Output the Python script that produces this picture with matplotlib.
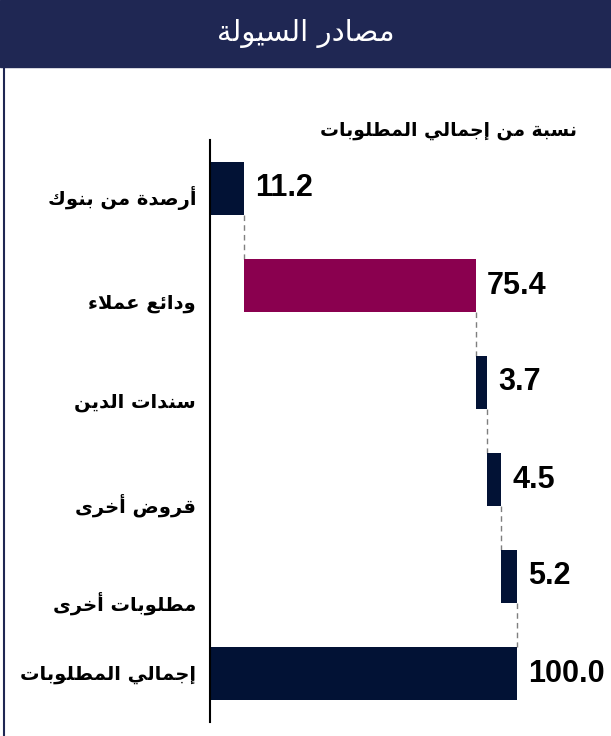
import matplotlib
matplotlib.use("Agg")
import matplotlib.pyplot as plt
import numpy as np

# data
categories = ["أرصدة من بنوك", "ودائع عملاء", "سندات الدين", "قروض أخرى", "مطلوبات أخرى", "إجمالي المطلوبات"]
values = [11.2, 75.4, 3.7, 4.5, 5.2, 100.0]
is_total = [False, False, False, False, False, True]
title = "مصادر السيولة"
subtitle = "نسبة من إجمالي المطلوبات"

NAVY = "#021235"
MAROON = "#8a004f"
HEADER = "#1f2753"
bar_colors = [NAVY, MAROON, NAVY, NAVY, NAVY, NAVY]

# matplotlib has no arabic shaping, so map letters to presentation forms by hand
# char: (isolated, final, initial, medial)
FORMS = {
    "ء": ("\uFE80", None, None, None),
    "أ": ("\uFE83", "\uFE84", None, None),
    "إ": ("\uFE87", "\uFE88", None, None),
    "ئ": ("\uFE89", "\uFE8A", "\uFE8B", "\uFE8C"),
    "ا": ("\uFE8D", "\uFE8E", None, None),
    "ب": ("\uFE8F", "\uFE90", "\uFE91", "\uFE92"),
    "ة": ("\uFE93", "\uFE94", None, None),
    "ت": ("\uFE95", "\uFE96", "\uFE97", "\uFE98"),
    "ج": ("\uFE9D", "\uFE9E", "\uFE9F", "\uFEA0"),
    "خ": ("\uFEA5", "\uFEA6", "\uFEA7", "\uFEA8"),
    "د": ("\uFEA9", "\uFEAA", None, None),
    "ر": ("\uFEAD", "\uFEAE", None, None),
    "س": ("\uFEB1", "\uFEB2", "\uFEB3", "\uFEB4"),
    "ص": ("\uFEB9", "\uFEBA", "\uFEBB", "\uFEBC"),
    "ض": ("\uFEBD", "\uFEBE", "\uFEBF", "\uFEC0"),
    "ط": ("\uFEC1", "\uFEC2", "\uFEC3", "\uFEC4"),
    "ع": ("\uFEC9", "\uFECA", "\uFECB", "\uFECC"),
    "ق": ("\uFED5", "\uFED6", "\uFED7", "\uFED8"),
    "ك": ("\uFED9", "\uFEDA", "\uFEDB", "\uFEDC"),
    "ل": ("\uFEDD", "\uFEDE", "\uFEDF", "\uFEE0"),
    "م": ("\uFEE1", "\uFEE2", "\uFEE3", "\uFEE4"),
    "ن": ("\uFEE5", "\uFEE6", "\uFEE7", "\uFEE8"),
    "و": ("\uFEED", "\uFEEE", None, None),
    "ى": ("\uFEEF", "\uFEF0", None, None),
    "ي": ("\uFEF1", "\uFEF2", "\uFEF3", "\uFEF4"),
    "LA": ("\uFEFB", "\uFEFC", None, None),
}


def shape(text):
    chars = []
    i = 0
    while i < len(text):
        if text[i] == "ل" and i + 1 < len(text) and text[i + 1] == "ا":
            chars.append("LA")
            i += 2
        else:
            chars.append(text[i])
            i += 1
    out = []
    for k, c in enumerate(chars):
        if c not in FORMS:
            out.append(c)
            continue
        f = FORMS[c]
        prev = chars[k - 1] if k > 0 else None
        nxt = chars[k + 1] if k + 1 < len(chars) else None
        join_prev = prev in FORMS and FORMS[prev][2] is not None and f[1] is not None
        join_next = f[2] is not None and nxt in FORMS and FORMS[nxt][1] is not None
        if join_prev and join_next:
            out.append(f[3])
        elif join_prev:
            out.append(f[1])
        elif join_next:
            out.append(f[2])
        else:
            out.append(f[0])
    return "".join(out)[::-1]


starts = []
run = 0.0
for v, t in zip(values, is_total):
    if t:
        starts.append(0.0)
    else:
        starts.append(run)
        run += v
ends = [s + v for s, v in zip(starts, values)]

W, H = 611, 736
fig = plt.figure(figsize=(W / 100, H / 100), dpi=100)

# header band
fig.patches.append(plt.Rectangle((0, 1 - 67 / H), 1, 67 / H, transform=fig.transFigure,
                                 color=HEADER, zorder=0))
fig.add_artist(plt.Line2D([4 / W, 4 / W], [0, 1 - 67 / H], transform=fig.transFigure,
                          color=HEADER, lw=1.5))
fig.text(0.5, 1 - 33 / H, shape(title), color="white", fontsize=21,
         ha="center", va="center", family="DejaVu Sans")
fig.text(577 / W, 1 - 130 / H, shape(subtitle), color="black", fontsize=13.5,
         fontweight="bold", ha="right", va="center", family="DejaVu Sans")

ax = fig.add_axes([210 / W, 14 / H, 401 / W, 582 / H])
y = np.arange(len(categories))
bh = 0.556
ax.barh(y, values, left=starts, height=bh, color=bar_colors, zorder=2)

# dashed connectors between steps
for i in range(len(values) - 1):
    ax.plot([ends[i], ends[i]], [i + bh / 2, i + 1 - bh / 2], color="#7f7f7f",
            lw=1, ls=(0, (4, 3)), zorder=1)

for i, (e, v) in enumerate(zip(ends, values)):
    ax.annotate(f"{v:.1f}", xy=(e, i), xytext=(8, 0), textcoords="offset points",
                ha="left", va="center", fontsize=22, fontweight="bold",
                family="Liberation Sans")

label_drop = [9, 18, 20, 26, 27, 1]
for i, c in enumerate(categories):
    ax.annotate(shape(c), xy=(0, i), xytext=(-10, -label_drop[i] * 0.72),
                textcoords="offset points", ha="right", va="center",
                fontsize=14, fontweight="bold", family="DejaVu Sans",
                annotation_clip=False)

ax.set_xlim(0, 401 / 3.07)
ax.set_ylim(len(categories) - 0.5, -0.5)
ax.set_xticks([])
ax.set_yticks([])
for s in ["top", "right", "bottom"]:
    ax.spines[s].set_visible(False)
ax.spines["left"].set_linewidth(1.5)
ax.spines["left"].set_color("black")

fig.savefig("out.png", dpi=100)
